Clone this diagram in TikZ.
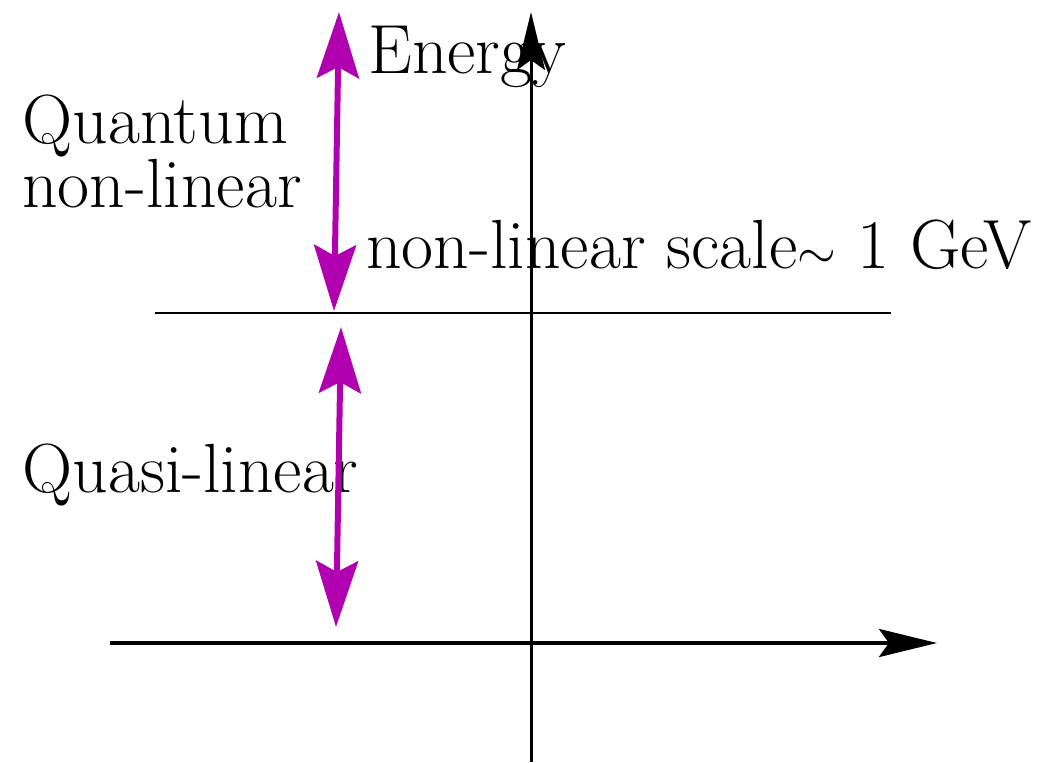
\documentclass[tikz,border=0pt]{standalone}
\usepackage{tikz}
\usetikzlibrary{arrows.meta}
\definecolor{scalemag}{RGB}{176,0,176}
\tikzset{
  axis/.style={-{Stealth[length=29pt, width=14pt, inset=5pt]}, line width=2pt},
  span/.style={{Stealth[length=33pt, width=21pt, inset=5.5pt]}-{Stealth[length=33pt, width=21pt, inset=5.5pt]},
               line width=3pt, draw=scalemag},
  lbl/.style={font=\fontsize{34.8}{30}\selectfont, inner sep=0pt, anchor=base west, align=left},
}
\begin{document}
\begin{tikzpicture}[x=0.5pt, y=-0.5pt]
  \useasboundingbox (0,0) rectangle (1051,762);
  % labels
  \node[lbl] (energy) at (368,73) {Energy};
  \node[lbl] (quantum) at (22,207) {Quantum\\non-linear};
  \node[lbl] (quasi) at (22,492) {Quasi-linear};
  \node[lbl] (nlscale) at (366,268) {non-linear scale$\sim$ 1 GeV};
  % axes and scale line
  \coordinate (xl) at (110,643);
  \coordinate (xr) at (937,643);
  \coordinate (yb) at (531,762);
  \coordinate (yt) at (531,12);
  \coordinate (sl) at (155,313);
  \coordinate (sr) at (891,313);
  \draw[axis] (xl) -- (xr);
  \draw[axis, line width=1.5pt] (yb) -- (yt);
  \draw[line width=0.75pt] (sl) -- (sr);
  % regimes
  \coordinate (qtop) at (339,12);
  \coordinate (qbot) at (334,311);
  \coordinate (ltop) at (341,327);
  \coordinate (lbot) at (336,627);
  \draw[span] (qtop) -- (qbot);
  \draw[span] (ltop) -- (lbot);
\end{tikzpicture}
\end{document}
